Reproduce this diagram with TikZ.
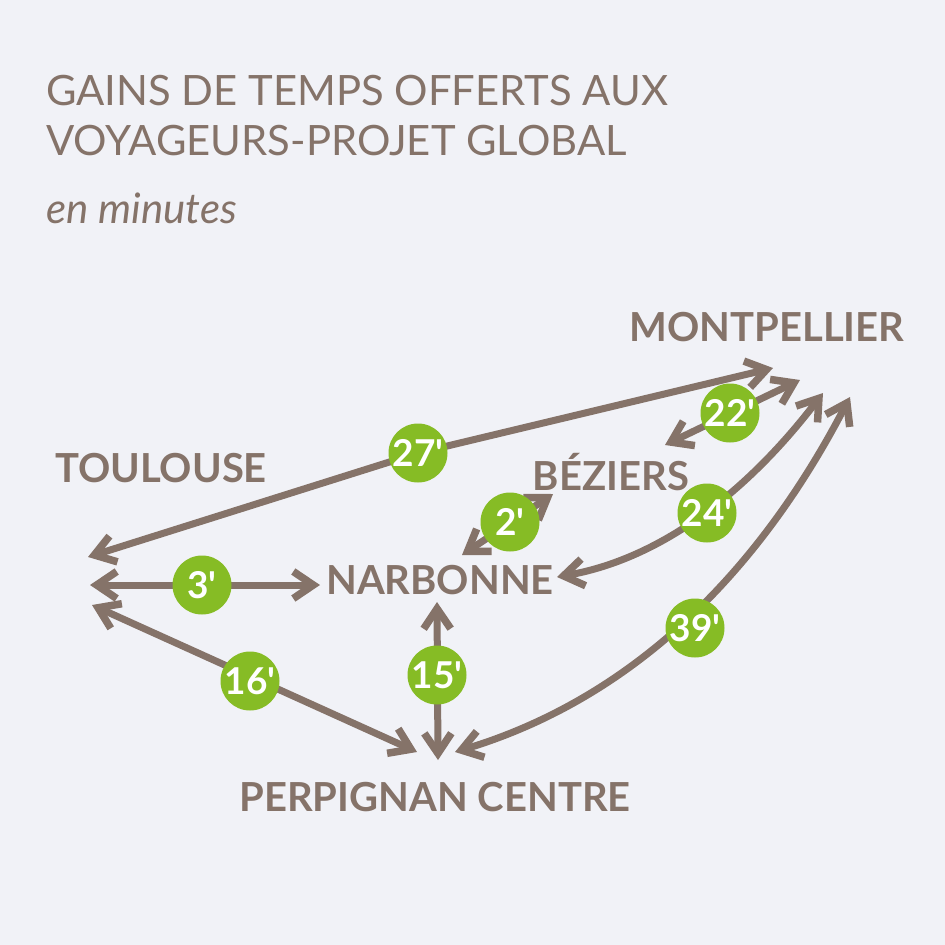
\documentclass[tikz,border=0pt]{standalone}
\usepackage{fontspec}
\setmainfont{Lato}
\usetikzlibrary{arrows.meta}
\definecolor{bg}{HTML}{F1F2F7}
\definecolor{brn}{HTML}{857369}
\definecolor{grn}{HTML}{86BC25}
\tikzset{
  mybarb/.tip={Straight Barb[length=20pt,width=27pt,line width=7.5pt,sharp]},
  link/.style={line width=7pt, draw=brn, arrows={mybarb-mybarb}},
  badge/.style={circle, fill=grn, minimum size=59pt, inner sep=0pt, text=white,
    font=\bfseries\fontsize{37}{37}\selectfont},
  city/.style={text=brn, font=\bfseries\fontsize{40}{40}\selectfont, inner sep=0pt},
  ttl/.style={text=brn, font=\fontsize{41.8}{41.8}\selectfont, anchor=base west, inner sep=0pt}
}
\newcommand{\mn}[1]{#1\textquotesingle}
\begin{document}
\begin{tikzpicture}[x=1pt,y=-1pt]
\fill[bg] (0,0) rectangle (945,945);
\useasboundingbox (0,0) rectangle (945,945);
% titles
\node[ttl] (t1) at (46,105) {GAINS DE TEMPS OFFERTS AUX};
\node[ttl] (t2) at (46,155) {VOYAGEURS-PROJET GLOBAL};
\node[ttl, font=\itshape\fontsize{42}{42}\selectfont] (t3) at (46,223) {en minutes};
% cities
\node[city] (mtp) at (767,327) {MONTPELLIER};
\node[city] (tls) at (161,468) {TOULOUSE};
\node[city] (bez) at (611,472) {BÉZIERS};
\node[city] (nar) at (440,580) {NARBONNE};
\node[city] (per) at (435,797) {PERPIGNAN CENTRE};
% endpoints
\coordinate (T1) at (88,557);
\coordinate (T2) at (90,585);
\coordinate (T3) at (92,605);
\coordinate (M1) at (773,368);
\coordinate (M2) at (800,380);
\coordinate (M3) at (823,393);
\coordinate (M4) at (850,397);
\coordinate (B1) at (665,445);
\coordinate (B2) at (553,494);
\coordinate (N1) at (462,555);
\coordinate (N2) at (557,577);
\coordinate (N3) at (320,585);
\coordinate (N4) at (437,602);
\coordinate (P1) at (417,752);
\coordinate (P2) at (438,760);
\coordinate (P3) at (455,752);
\coordinate (K27) at (418,453);
% connectors
\draw[link] (T1) -- (K27) -- (M1);
\draw[link] (B1) -- (M2);
\draw[link] (N1) -- (B2);
\draw[link] (N2) .. controls (655,560) and (742,499) .. (M3);
\draw[link] (P3) .. controls (625,701) and (754,582) .. (M4);
\draw[link] (T2) -- (N3);
\draw[link] (T3) -- (P1);
\draw[link] (N4) -- (P2);
% badges
\node[badge] (b27) at (418,453) {\mn{27}};
\node[badge] (b22) at (730,413) {\mn{22}};
\node[badge] (b2) at (510,522) {\mn{2}};
\node[badge] (b24) at (707,513) {\mn{24}};
\node[badge] (b39) at (695,628) {\mn{39}};
\node[badge] (b3) at (202,585) {\mn{3}};
\node[badge] (b16) at (250,681) {\mn{16}};
\node[badge] (b15) at (437,675) {\mn{15}};
\end{tikzpicture}
\end{document}
